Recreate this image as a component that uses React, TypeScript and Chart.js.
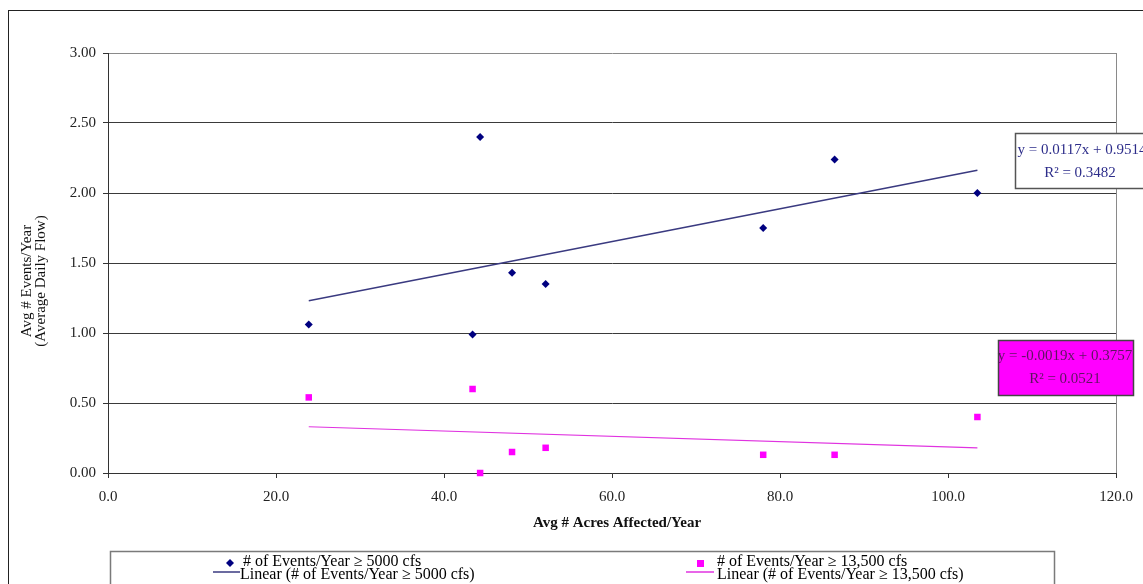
import React, { useEffect, useRef } from "react";
import { Chart, registerables } from "chart.js";

Chart.register(...registerables);

// ---- data ----
const acresPerYear = [23.9, 44.3, 43.4, 48.1, 52.1, 78.0, 86.5, 103.5];
const events5000 = [1.06, 2.4, 0.99, 1.43, 1.35, 1.75, 2.24, 2.0];
const events13500 = [0.54, 0.0, 0.6, 0.15, 0.18, 0.13, 0.13, 0.4];
const xTicks = [0, 20, 40, 60, 80, 100, 120];
const yTicks = [0, 0.5, 1, 1.5, 2, 2.5, 3];
const trend5000 = { slope: 0.0117, intercept: 0.9514, r2: "0.3482", label: "y = 0.0117x + 0.9514" };
const trend13500 = { slope: -0.0019, intercept: 0.3757, r2: "0.0521", label: "y = -0.0019x + 0.3757" };
const seriesNames = ["# of Events/Year ≥ 5000 cfs", "# of Events/Year ≥ 13,500 cfs"];
const trendNames = ["Linear (# of Events/Year ≥ 5000 cfs)", "Linear (# of Events/Year ≥ 13,500 cfs)"];
const xTitle = "Avg # Acres Affected/Year";
const yTitle = ["Avg # Events/Year", "(Average Daily Flow)"];

const FONT = "'Liberation Serif', 'Times New Roman', serif";
const NAVY = "#000080";
const MAGENTA = "#ff00ff";
const TREND1 = "#3a3a80";
const TREND2 = "#e033e0";

function trendPoints(t: { slope: number; intercept: number }) {
  const xmin = Math.min(...acresPerYear);
  const xmax = Math.max(...acresPerYear);
  return [
    { x: xmin, y: t.slope * xmin + t.intercept },
    { x: xmax, y: t.slope * xmax + t.intercept },
  ];
}

const decor = {
  id: "decor",
  beforeDatasetsDraw(chart: any) {
    const { ctx, chartArea } = chart;
    ctx.save();
    ctx.strokeStyle = "#8a8a8a";
    ctx.lineWidth = 1;
    ctx.beginPath();
    ctx.moveTo(Math.round(chartArea.right) + 0.5, chartArea.top);
    ctx.lineTo(Math.round(chartArea.right) + 0.5, chartArea.bottom);
    ctx.stroke();
    ctx.restore();
  },
  afterDraw(chart: any) {
    const { ctx } = chart;
    ctx.save();
    // outer frame
    ctx.strokeStyle = "#222";
    ctx.lineWidth = 1;
    ctx.strokeRect(8.5, 10.5, 1400, 800);

    // axis titles
    ctx.fillStyle = "#111";
    ctx.font = `bold 15px ${FONT}`;
    ctx.textAlign = "center";
    ctx.textBaseline = "middle";
    ctx.fillText(xTitle, 617, 523);

    ctx.font = `15px ${FONT}`;
    ctx.save();
    ctx.translate(27, 281);
    ctx.rotate(-Math.PI / 2);
    ctx.fillText(yTitle[0], 0, 0);
    ctx.fillText(yTitle[1], 0, 14);
    ctx.restore();

    // equation box 1
    ctx.fillStyle = "#fff";
    ctx.fillRect(1015, 133, 135, 55);
    ctx.strokeStyle = "#555";
    ctx.lineWidth = 1.5;
    ctx.strokeRect(1015.5, 133.5, 135, 55);
    ctx.fillStyle = "#2d2d8a";
    ctx.font = `15px ${FONT}`;
    ctx.textAlign = "center";
    ctx.fillText(trend5000.label, 1082, 150);
    ctx.fillText(`R² = ${trend5000.r2}`, 1080, 173);

    // equation box 2
    ctx.fillStyle = MAGENTA;
    ctx.fillRect(998, 340, 135, 55);
    ctx.strokeStyle = "#444";
    ctx.strokeRect(998.5, 340.5, 135, 55);
    ctx.fillStyle = "#5e1460";
    ctx.fillText(trend13500.label, 1065, 356);
    ctx.fillText(`R² = ${trend13500.r2}`, 1065, 379);

    // legend
    ctx.strokeStyle = "#7a7a7a";
    ctx.lineWidth = 1.5;
    ctx.strokeRect(110.5, 551.5, 944, 80);
    ctx.font = `16px ${FONT}`;
    ctx.textAlign = "left";
    const r1 = 562;
    const r2 = 575;
    // diamond
    ctx.fillStyle = NAVY;
    ctx.beginPath();
    ctx.moveTo(230 - 4, r1 + 1);
    ctx.lineTo(230, r1 - 3);
    ctx.lineTo(230 + 4, r1 + 1);
    ctx.lineTo(230, r1 + 5);
    ctx.closePath();
    ctx.fill();
    ctx.fillStyle = "#000";
    ctx.fillText(seriesNames[0], 243, r1);
    // square
    ctx.fillStyle = MAGENTA;
    ctx.fillRect(697, r1 - 2, 7, 7);
    ctx.fillStyle = "#000";
    ctx.fillText(seriesNames[1], 717, r1);
    // trend lines
    ctx.lineWidth = 1.5;
    ctx.strokeStyle = TREND1;
    ctx.beginPath();
    ctx.moveTo(213, 572);
    ctx.lineTo(240, 572);
    ctx.stroke();
    ctx.fillText(trendNames[0], 240, r2);
    ctx.strokeStyle = TREND2;
    ctx.beginPath();
    ctx.moveTo(686, 572);
    ctx.lineTo(714, 572);
    ctx.stroke();
    ctx.fillText(trendNames[1], 717, r2);
    ctx.restore();
  },
};

export default function App() {
  const ref = useRef<HTMLCanvasElement | null>(null);
  useEffect(() => {
    if (!ref.current) return;
    Chart.defaults.font.family = FONT;
    const chart = new Chart(ref.current, {
      type: "scatter",
      data: {
        datasets: [
          {
            label: seriesNames[0],
            data: acresPerYear.map((x, i) => ({ x, y: events5000[i] })),
            pointStyle: "rectRot",
            pointRadius: 4,
            backgroundColor: NAVY,
            borderColor: NAVY,
            borderWidth: 0,
            clip: false,
            order: 1,
          } as any,
          {
            label: seriesNames[1],
            data: acresPerYear.map((x, i) => ({ x, y: events13500[i] })),
            pointStyle: "rect",
            pointRadius: 4.6,
            backgroundColor: MAGENTA,
            borderColor: MAGENTA,
            borderWidth: 0,
            clip: false,
            order: 1,
          } as any,
          {
            type: "line",
            label: trendNames[0],
            data: trendPoints(trend5000),
            borderColor: TREND1,
            borderWidth: 1.5,
            pointRadius: 0,
            fill: false,
            order: 2,
          } as any,
          {
            type: "line",
            label: trendNames[1],
            data: trendPoints(trend13500),
            borderColor: TREND2,
            borderWidth: 1.2,
            pointRadius: 0,
            fill: false,
            order: 2,
          } as any,
        ],
      },
      options: {
        animation: false,
        responsive: false,
        devicePixelRatio: 1,
        layout: { padding: { top: 53, right: 27, left: 0, bottom: 0 } },
        plugins: { legend: { display: false }, tooltip: { enabled: false } },
        scales: {
          x: {
            type: "linear",
            min: 0,
            max: 120,
            afterBuildTicks: (s: any) => {
              s.ticks = xTicks.map((v) => ({ value: v }));
            },
            afterFit: (s: any) => {
              s.height = 111;
            },
            ticks: {
              callback: (v: any) => Number(v).toFixed(1),
              font: { size: 15, family: FONT },
              color: "#222",
              padding: 10,
              maxRotation: 0,
              autoSkip: false,
            },
            grid: { drawOnChartArea: false, tickLength: 5, tickColor: "#333" },
            border: { color: "#333", width: 1 },
          },
          y: {
            type: "linear",
            min: 0,
            max: 3,
            afterBuildTicks: (s: any) => {
              s.ticks = yTicks.map((v) => ({ value: v }));
            },
            afterFit: (s: any) => {
              s.width = 108;
            },
            ticks: {
              callback: (v: any) => Number(v).toFixed(2),
              font: { size: 15, family: FONT },
              color: "#222",
              padding: 7,
              autoSkip: false,
            },
            grid: {
              color: (c: any) => (c.tick && c.tick.value === 3 ? "#8a8a8a" : "#3a3a3a"),
              tickLength: 5,
              tickColor: "#333",
            },
            border: { color: "#333", width: 1 },
          },
        },
      },
      plugins: [decor],
    });
    return () => chart.destroy();
  }, []);

  return (
    <div style={{ position: "absolute", left: 0, top: 0, width: 1143, height: 584, background: "#fff" }}>
      <canvas ref={ref} width={1143} height={584} style={{ width: 1143, height: 584 }} />
    </div>
  );
}
